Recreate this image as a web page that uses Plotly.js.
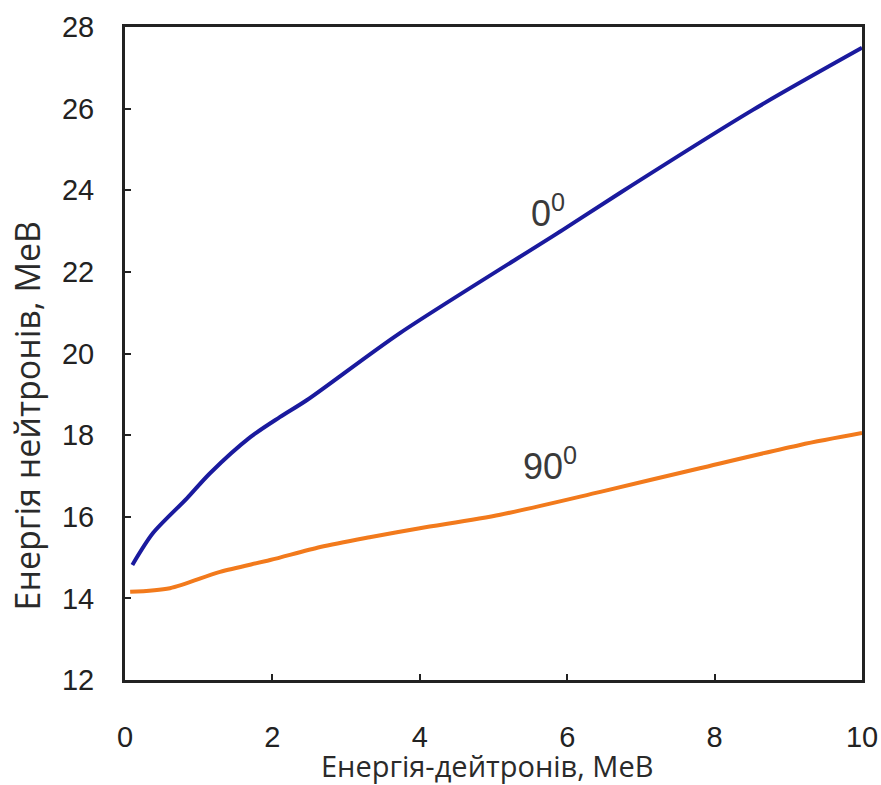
<!DOCTYPE html>
<html>
<head>
<meta charset="utf-8">
<script src="https://cdn.plot.ly/plotly-3.0.1.min.js"></script>
<style>html,body{margin:0;padding:0;background:#fff;}#chart{width:881px;height:785px;}</style>
</head>
<body>
<div id="chart"></div>
<script>
// Deuteron energy (MeV)
const xDeg0 = [0.1, 0.38, 0.84, 1.15, 1.7, 2.1, 2.47, 3.73, 5.94, 6.72, 8.52, 10.0];
// Neutron energy at 0 degrees (MeV)
const yDeg0 = [14.82, 15.6, 16.45, 17.06, 17.95, 18.44, 18.86, 20.5, 23.03, 23.94, 25.97, 27.49];
const xDeg90 = [0.07, 0.61, 1.29, 1.97, 2.65, 3.32, 4.0, 5.09, 6.45, 7.8, 9.16, 10.0];
// Neutron energy at 90 degrees (MeV)
const yDeg90 = [14.16, 14.25, 14.65, 14.94, 15.26, 15.5, 15.72, 16.05, 16.61, 17.19, 17.76, 18.05];
const xTicks = [0, 2, 4, 6, 8, 10];
const yTicks = [12, 14, 16, 18, 20, 22, 24, 26, 28];
const curveLabels = [{text: "0<sup>0</sup>", x: 5.74, y: 23.5}, {text: "90<sup>0</sup>", x: 5.77, y: 17.3}];
const xTitle = 'Енергія-дейтронів, МеВ';
const yTitle = 'Енергія нейтронів, МеВ';

const traces = [
  {x: xDeg0, y: yDeg0, mode: 'lines', line: {color: '#1a1a9e', width: 4, shape: 'spline', smoothing: 0.8}, showlegend: false, hoverinfo: 'skip'},
  {x: xDeg90, y: yDeg90, mode: 'lines', line: {color: '#f27a1c', width: 4, shape: 'spline', smoothing: 0.8}, showlegend: false, hoverinfo: 'skip'}
];

const axisCommon = {
  showline: true, mirror: true, linecolor: '#222', linewidth: 3,
  ticks: 'inside', ticklen: 6, tickwidth: 2, tickcolor: '#222',
  showgrid: false, zeroline: false,
  tickfont: {family: '"Liberation Sans", Arial, sans-serif', size: 29, color: '#222'}
};

const titleFont = {family: '"Open Sans", sans-serif', color: '#2a2a2a'};

const layout = {
  width: 881, height: 785,
  margin: {l: 125, r: 19, t: 27, b: 105},
  paper_bgcolor: '#fff', plot_bgcolor: '#fff',
  xaxis: Object.assign({}, axisCommon, {
    range: [0, 10], tickvals: xTicks, ticktext: xTicks.map(String),
    ticklabelstandoff: 29
  }),
  yaxis: Object.assign({}, axisCommon, {
    range: [12, 28], tickvals: yTicks, ticktext: yTicks.map(String),
    ticklabelstandoff: 22
  }),
  annotations: curveLabels.map(l => ({
    x: l.x, y: l.y, xref: 'x', yref: 'y', text: l.text, showarrow: false,
    font: {family: '"Liberation Sans", Arial, sans-serif', size: 36, color: '#3a3a3a'}
  })).concat([
    {xref: 'paper', yref: 'paper', x: 0.491, y: -0.131, xanchor: 'center', yanchor: 'middle',
     text: xTitle, showarrow: false, font: Object.assign({size: 29}, titleFont)},
    {xref: 'paper', yref: 'paper', x: -0.133, y: 0.405, xanchor: 'center', yanchor: 'middle',
     textangle: -90, text: yTitle, showarrow: false, font: Object.assign({size: 34}, titleFont)}
  ])
};

Plotly.newPlot('chart', traces, layout, {displayModeBar: false, staticPlot: true});
</script>
</body>
</html>
